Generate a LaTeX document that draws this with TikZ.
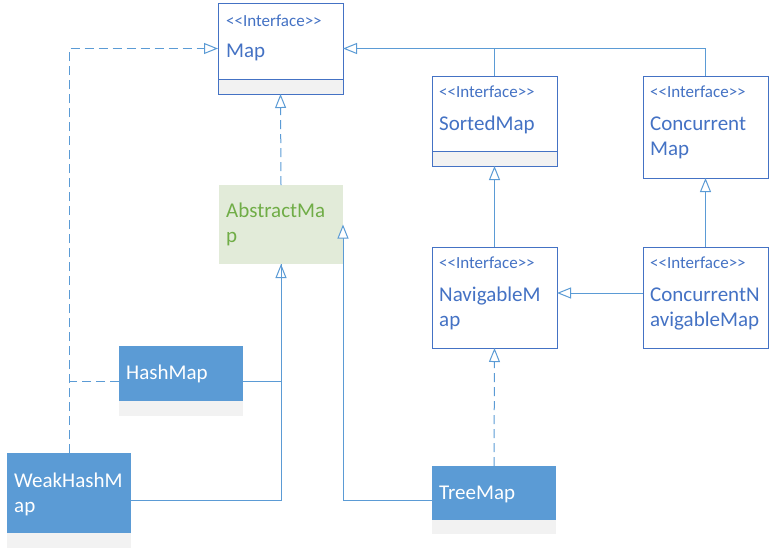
\documentclass[tikz,border=0pt]{standalone}
\usepackage{fontspec}
\setmainfont{Carlito}
\usetikzlibrary{arrows.meta}
\definecolor{bord}{HTML}{4472C4}
\definecolor{conn}{HTML}{5B9BD5}
\definecolor{clsfill}{HTML}{5B9BD5}
\definecolor{grayc}{HTML}{F2F2F2}
\definecolor{absfill}{HTML}{E2EBD9}
\definecolor{abstext}{HTML}{70AD47}
\newcommand{\ifnt}{\fontsize{17}{20}\selectfont}
\newcommand{\nfnt}{\fontsize{21}{25}\selectfont}
\newcommand{\stereotext}{<\kern0pt<Interface>\kern0pt>}
\begin{document}
\begin{tikzpicture}[x=1pt,y=-1pt,
  ibox/.style={draw=bord, line width=1pt, fill=white, rectangle, inner sep=0pt, outer sep=0pt, anchor=north west},
  gbox/.style={draw=bord, line width=1pt, fill=grayc, rectangle, inner sep=0pt, outer sep=0pt, anchor=north west},
  cbox/.style={fill=grayc, rectangle, inner sep=0pt, outer sep=0pt, anchor=north west},
  ctop/.style={fill=clsfill, rectangle, inner sep=0pt, outer sep=0pt, anchor=north west},
  abox/.style={fill=absfill, rectangle, inner sep=0pt, outer sep=0pt, anchor=north west},
  stereo/.style={anchor=base west, inner sep=0pt, text=bord, font=\ifnt},
  iname/.style={anchor=base west, inner sep=0pt, text=bord, font=\nfnt, align=left},
  cname/.style={anchor=base west, inner sep=0pt, text=white, font=\nfnt, align=left},
  conline/.style={draw=conn, line width=1pt},
  dashline/.style={draw=conn, line width=1pt, dash pattern=on 9pt off 5pt},
  realize/.style={-{Triangle[open, length=14pt, width=11pt, fill=white]}},
]
\useasboundingbox (0,0) rectangle (774,558);

% Interface boxes
\node[ibox, minimum width=125pt, minimum height=91pt] (map) at (218,3) {};
\node[gbox, minimum width=125pt, minimum height=15pt] (mapc) at (218,79) {};
\node[stereo] (mapst) at (226,26) {\stereotext};
\node[iname] (mapn) at (226,57) {Map};

\node[ibox, minimum width=125pt, minimum height=90pt] (sorted) at (432,76) {};
\node[gbox, minimum width=125pt, minimum height=15pt] (sortedc) at (432,151) {};
\node[stereo] (sortedst) at (439,97) {\stereotext};
\node[iname] (sortedn) at (439,130) {SortedMap};

\node[ibox, minimum width=125pt, minimum height=102pt] (conc) at (643,76) {};
\node[stereo] (concst) at (650,97) {\stereotext};
\node[iname] (concn) at (650,155) {Concurrent\\Map};

\node[ibox, minimum width=125pt, minimum height=101pt] (navig) at (432,247) {};
\node[stereo] (navigst) at (439,268) {\stereotext};
\node[iname] (navign) at (439,326) {NavigableM\\ap};

\node[ibox, minimum width=125pt, minimum height=101pt] (cnav) at (643,247) {};
\node[stereo] (cnavst) at (650,268) {\stereotext};
\node[iname] (cnavn) at (650,326) {ConcurrentN\\avigableMap};

% Abstract class
\node[abox, minimum width=124pt, minimum height=79pt] (abs) at (219,185) {};
\node[iname, text=abstext] (absn) at (226,242) {AbstractMa\\p};

% Classes
\node[cbox, minimum width=124pt, minimum height=70pt] (hash) at (119,346) {};
\node[ctop, minimum width=124pt, minimum height=55pt] (hasht) at (119,346) {};
\node[cname] (hashn) at (126,379) {HashMap};

\node[cbox, minimum width=124pt, minimum height=95pt] (weak) at (7,453) {};
\node[ctop, minimum width=124pt, minimum height=80pt] (weakt) at (7,453) {};
\node[cname] (weakn) at (14,512) {WeakHashM\\ap};

\node[cbox, minimum width=124pt, minimum height=68pt] (tree) at (432,466) {};
\node[ctop, minimum width=124pt, minimum height=54pt] (treet) at (432,466) {};
\node[cname] (treen) at (439,499) {TreeMap};

% Connectors
\draw[conline, realize] (conc.north) |- (map.east);
\draw[conline] (sorted.north) -- (sorted.north |- map.east);
\draw[dashline, realize] (weak.north) |- (map.west);
\draw[dashline] (hash.west) -- (hash.west -| weak.north);
\draw[dashline, realize] (abs.north) -- (map.south);
\draw[conline, realize] (hash.east) -| (abs.south);
\draw[conline] (weak.east) -| (abs.south);
\draw[conline, realize] (tree.west) -| (abs.east);
\draw[conline, realize] (navig.north) -- (sorted.south);
\draw[conline, realize] (cnav.north) -- (conc.south);
\draw[conline, realize] ([yshift=4.5pt]cnav.west) -- ([yshift=4.5pt]navig.east);
\draw[dashline, realize] (tree.north) -- (navig.south);
\end{tikzpicture}
\end{document}
